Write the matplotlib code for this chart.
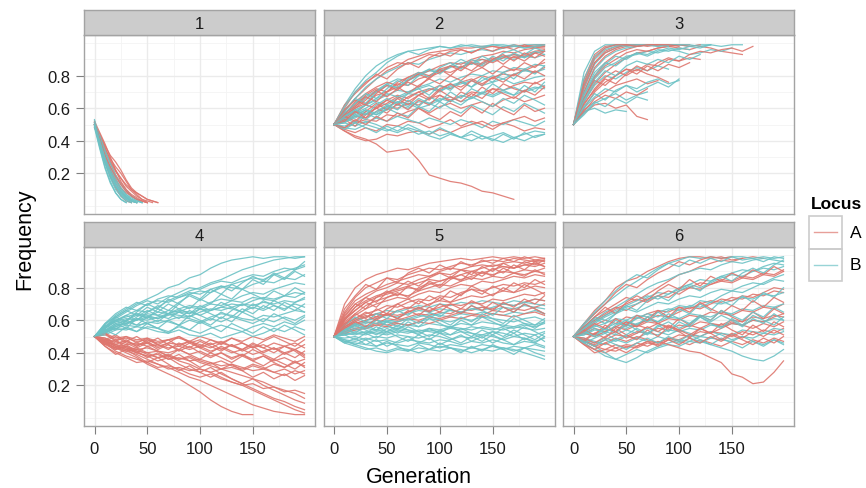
import numpy as np
import matplotlib.pyplot as plt
from matplotlib.lines import Line2D
from matplotlib.patches import Rectangle

plt.rcParams['font.family'] = ['Liberation Sans', 'DejaVu Sans']

# generations at which each trajectory is recorded
gen_fine = [0, 5, 10, 15, 20, 25, 30, 35, 40, 45, 50, 55, 60]
gen_std = [0, 10, 20, 30, 40, 50, 60, 70, 80, 90, 100, 110, 120, 130, 140,
           150, 160, 170, 180, 190, 199]

# allele frequency trajectories, in percent, one list per replicate run
p1_A = [
    [50, 40, 30, 21, 14, 9, 5, 3, 2],
    [51, 42, 33, 26, 19, 14, 10, 7, 5, 3, 2],
    [50, 44, 37, 31, 27, 22, 16, 11, 8, 6, 4, 3, 2],
    [49, 38, 27, 18, 11, 6, 3, 2],
    [50, 41, 34, 27, 21, 17, 12, 9, 6, 4, 3, 2],
    [52, 45, 38, 30, 22, 15, 10, 6, 4, 2],
    [50, 39, 29, 22, 16, 11, 8, 6, 4, 3, 2],
    [48, 43, 35, 29, 24, 20, 15, 10, 7, 4, 2],
    [50, 43, 36, 28, 22, 17, 13, 10, 8, 6, 4, 3, 2],
    [51, 41, 31, 24, 18, 13, 9, 6, 4, 3, 2],
]
p1_B = [
    [50, 36, 24, 15, 8, 4, 2],
    [52, 38, 27, 18, 12, 7, 4, 2],
    [50, 40, 30, 22, 15, 10, 6, 3, 2],
    [49, 37, 26, 17, 10, 6, 3, 2],
    [51, 42, 32, 24, 17, 11, 7, 4, 2],
    [50, 39, 28, 20, 13, 8, 5, 3, 2],
    [53, 41, 31, 23, 16, 11, 7, 5, 3, 2],
    [48, 35, 23, 14, 8, 4, 2],
    [50, 43, 34, 26, 19, 13, 9, 6, 4, 2],
    [51, 40, 29, 19, 12, 7, 4, 3, 2],
    [49, 39, 29, 21, 14, 9, 6, 4, 3, 2],
    [50, 37, 27, 19, 12, 8, 5, 3, 2],
]

p2_A = [
    [50, 58, 66, 72, 78, 83, 86, 90, 92, 94, 95, 96, 97, 97, 98, 98, 97, 98, 98, 99, 99],
    [50, 55, 60, 63, 68, 70, 75, 74, 78, 80, 83, 82, 85, 88, 87, 90, 92, 91, 93, 95, 96],
    [50, 53, 57, 62, 60, 65, 68, 66, 70, 72, 71, 75, 73, 77, 80, 78, 82, 84, 83, 86, 88],
    [50, 52, 55, 54, 58, 61, 60, 63, 62, 66, 68, 65, 67, 70, 69, 72, 71, 74, 76, 75, 78],
    [50, 48, 51, 53, 52, 56, 55, 58, 60, 57, 61, 63, 60, 62, 64, 61, 65, 67, 64, 66, 68],
    [50, 47, 45, 48, 46, 50, 49, 52, 51, 48, 50, 53, 49, 52, 50, 47, 51, 49, 46, 48, 47],
    [50, 46, 42, 40, 41, 44, 43, 45, 46, 44, 47, 45, 48, 50, 52, 49, 51, 53, 55, 52, 54],
    [50, 46, 43, 41, 38, 33, 34, 35, 28, 19, 17, 15, 14, 12, 9, 8, 6, 4],
    [50, 60, 70, 76, 80, 85, 88, 87, 90, 93, 92, 95, 96, 94, 97, 98, 97, 99, 98, 98, 99],
    [50, 57, 62, 68, 72, 70, 76, 79, 82, 80, 84, 86, 85, 89, 90, 88, 91, 93, 92, 94, 95],
    [50, 54, 58, 56, 60, 63, 67, 64, 68, 71, 74, 72, 76, 78, 75, 79, 81, 80, 84, 82, 85],
    [50, 56, 64, 69, 73, 76, 74, 79, 81, 83, 86, 88, 87, 90, 92, 93, 95, 94, 96, 97, 97],
    [50, 57, 61, 67, 64, 70, 73, 69, 74, 78, 75, 80, 77, 82, 85, 81, 86, 83, 88, 85, 90],
    [50, 53, 49, 56, 60, 57, 63, 59, 65, 62, 68, 64, 70, 67, 73, 69, 75, 72, 70, 76, 73],
    [50, 62, 69, 75, 81, 78, 84, 88, 85, 91, 94, 92, 96, 94, 97, 95, 98, 96, 99, 97, 98],
    [50, 55, 52, 58, 63, 59, 66, 62, 68, 65, 71, 67, 64, 69, 66, 72, 69, 66, 71, 68, 73],
    [50, 59, 65, 62, 69, 74, 71, 77, 81, 78, 84, 80, 86, 83, 88, 91, 87, 92, 89, 94, 92],
    [50, 48, 53, 50, 55, 52, 57, 54, 60, 56, 53, 58, 55, 61, 57, 63, 59, 56, 62, 58, 60],
    [50, 56, 60, 65, 71, 67, 72, 76, 73, 79, 82, 86, 83, 88, 85, 90, 93, 89, 94, 91, 95],
    [50, 52, 58, 54, 61, 65, 62, 67, 70, 66, 72, 75, 71, 77, 74, 79, 76, 81, 78, 83, 80],
]
p2_B = [
    [50, 62, 72, 80, 86, 90, 93, 95, 96, 97, 98, 97, 98, 99, 98, 99, 99, 98, 99, 99, 99],
    [50, 58, 66, 73, 78, 82, 85, 88, 87, 90, 92, 94, 93, 95, 96, 95, 97, 98, 97, 98, 98],
    [50, 55, 61, 66, 70, 74, 73, 77, 80, 83, 82, 85, 88, 87, 90, 89, 92, 93, 91, 94, 95],
    [50, 53, 57, 60, 64, 62, 66, 69, 68, 72, 70, 74, 76, 73, 77, 80, 78, 81, 83, 82, 84],
    [50, 52, 54, 58, 56, 59, 62, 60, 64, 63, 66, 64, 68, 66, 70, 68, 71, 73, 70, 72, 74],
    [50, 49, 52, 51, 54, 52, 55, 53, 51, 54, 52, 50, 53, 51, 48, 52, 50, 53, 51, 49, 52],
    [50, 48, 47, 50, 48, 46, 49, 47, 44, 46, 43, 45, 42, 44, 41, 43, 45, 42, 44, 46, 45],
    [50, 51, 49, 52, 50, 47, 45, 48, 46, 43, 41, 44, 42, 40, 43, 41, 39, 42, 40, 43, 44],
    [50, 56, 63, 67, 71, 75, 78, 77, 81, 84, 83, 86, 85, 88, 86, 89, 91, 90, 92, 91, 93],
    [50, 54, 59, 62, 65, 68, 71, 70, 73, 75, 78, 76, 79, 81, 80, 83, 82, 85, 84, 87, 86],
    [50, 52, 56, 59, 57, 61, 64, 63, 60, 62, 65, 67, 64, 66, 69, 67, 70, 68, 71, 73, 72],
    [50, 55, 58, 62, 66, 69, 67, 70, 72, 74, 71, 73, 75, 77, 74, 76, 78, 75, 77, 79, 80],
    [50, 59, 66, 63, 70, 75, 72, 78, 82, 79, 85, 88, 84, 90, 87, 92, 89, 94, 91, 95, 93],
    [50, 54, 51, 57, 54, 60, 57, 55, 61, 58, 64, 60, 57, 62, 59, 56, 61, 58, 63, 60, 57],
    [50, 61, 70, 77, 82, 88, 92, 95, 93, 96, 98, 97, 99, 98, 97, 99, 98, 99, 97, 98, 99],
    [50, 52, 56, 53, 58, 62, 59, 65, 61, 67, 64, 70, 66, 72, 69, 75, 71, 68, 74, 70, 76],
    [50, 47, 51, 48, 45, 49, 46, 50, 47, 44, 48, 45, 42, 46, 43, 40, 44, 41, 45, 42, 44],
    [50, 57, 63, 69, 66, 72, 77, 74, 80, 84, 81, 86, 90, 87, 92, 89, 94, 96, 93, 97, 95],
    [50, 55, 59, 56, 62, 66, 63, 69, 72, 68, 74, 71, 77, 73, 79, 76, 82, 78, 84, 81, 86],
    [50, 51, 55, 59, 56, 60, 64, 61, 66, 63, 60, 65, 62, 67, 64, 61, 66, 63, 68, 65, 62],
]

p3_A = [
    [50, 78, 93, 98, 99, 99],
    [50, 72, 88, 95, 98, 99, 99, 99],
    [50, 68, 80, 88, 93, 96, 98, 99, 99, 98, 99, 99],
    [50, 64, 75, 82, 87, 91, 94, 95, 97, 98, 97, 96, 98, 97, 95, 94, 93],
    [50, 60, 70, 76, 80, 84, 83, 87, 86, 90, 89, 91, 90],
    [50, 58, 66, 70, 74, 76, 78, 75, 77],
    [50, 57, 62, 63, 60, 62, 55, 53],
    [50, 66, 79, 86, 90, 94, 96, 95, 97, 98, 99],
    [50, 62, 72, 79, 83, 80, 84, 81, 79, 76],
    [50, 70, 85, 92, 96, 98, 99, 98, 99, 99, 99, 98, 99],
    [50, 74, 88, 94, 97, 99, 98, 99, 99],
    [50, 63, 71, 78, 75, 81, 86, 83, 88, 91, 89, 93, 95, 94, 96, 97, 95, 98],
    [50, 66, 77, 74, 80, 84, 81, 86, 83, 87, 85, 88],
    [50, 59, 64, 68, 66, 70, 68, 72],
    [50, 76, 91, 97, 99, 99, 98, 99, 99, 99, 98],
]
p3_B = [
    [50, 82, 95, 99, 99, 99],
    [50, 75, 90, 96, 98, 99, 99],
    [50, 70, 84, 91, 95, 97, 98, 99, 98, 99, 99, 98, 99, 99, 98, 99, 99],
    [50, 66, 78, 85, 88, 92, 93, 95, 94, 96, 95, 93, 94, 96, 95, 97],
    [50, 58, 60, 57, 59, 58],
    [50, 60, 67, 72, 70, 74, 72, 76, 78, 75, 77],
    [50, 64, 74, 80, 78, 82, 85, 83, 86, 84],
    [50, 68, 80, 87, 92, 90, 94, 93, 96, 95, 97, 96],
    [50, 56, 63, 66, 69, 65, 68, 70],
    [50, 73, 87, 94, 97, 99, 98, 99, 99, 98],
    [50, 78, 92, 97, 99, 98, 99, 99, 98, 99, 99, 99, 98, 99],
    [50, 61, 69, 65, 71, 74, 70, 73, 76, 73, 78],
    [50, 69, 82, 88, 86, 91, 94, 92, 95, 97, 96, 98, 97, 99],
    [50, 57, 64, 61, 66, 63, 67, 65],
    [50, 65, 76, 83, 80, 86, 89, 87, 90, 88, 92, 90, 93],
]

p4_A = [
    [50, 46, 43, 40, 37, 33, 30, 27, 24, 20, 16, 11, 7, 4, 2, 2],
    [50, 47, 44, 41, 39, 36, 33, 31, 28, 25, 23, 20, 17, 14, 11, 8, 6, 4, 3, 2, 2],
    [50, 45, 42, 44, 40, 38, 35, 37, 33, 30, 28, 31, 27, 24, 21, 18, 15, 12, 10, 7, 5],
    [50, 48, 45, 42, 43, 40, 41, 38, 36, 37, 34, 32, 30, 28, 26, 24, 22, 19, 17, 15, 12],
    [50, 46, 43, 41, 42, 39, 37, 39, 36, 38, 35, 33, 35, 32, 30, 33, 31, 28, 26, 29, 27],
    [50, 47, 45, 44, 42, 43, 41, 40, 42, 39, 41, 38, 40, 37, 39, 36, 38, 35, 37, 34, 36],
    [50, 48, 47, 45, 46, 44, 45, 43, 44, 42, 44, 41, 43, 40, 42, 39, 41, 43, 40, 42, 39],
    [50, 49, 46, 47, 45, 46, 44, 46, 45, 47, 45, 43, 46, 44, 42, 45, 43, 46, 44, 42, 45],
    [50, 51, 48, 49, 47, 48, 46, 48, 49, 47, 50, 48, 46, 49, 47, 50, 48, 51, 49, 47, 50],
    [50, 47, 44, 42, 40, 38, 39, 36, 37, 35, 36, 34, 32, 33, 31, 29, 30, 28, 30, 27, 29],
    [50, 46, 41, 38, 36, 34, 31, 32, 30, 27, 25, 27, 24, 22, 20, 21, 18, 19, 16, 17, 15],
    [50, 44, 40, 37, 34, 35, 33, 30, 31, 29, 30, 28, 30, 31, 29, 32, 30, 33, 31, 34, 32],
    [50, 48, 44, 43, 41, 40, 37, 38, 35, 33, 30, 28, 25, 22, 20, 17, 14, 11, 8, 5, 3],
    [50, 52, 49, 50, 48, 49, 47, 48, 50, 46, 48, 45, 47, 44, 46, 43, 45, 42, 44, 46, 43],
    [50, 45, 48, 43, 40, 44, 41, 38, 42, 39, 36, 40, 37, 34, 38, 35, 32, 36, 33, 30, 34],
    [50, 52, 47, 50, 46, 49, 45, 48, 44, 47, 43, 46, 42, 45, 41, 44, 40, 43, 39, 42, 38],
    [50, 47, 42, 45, 41, 37, 40, 36, 39, 35, 31, 34, 30, 33, 29, 25, 28, 24, 27, 23, 26],
    [50, 48, 51, 47, 50, 46, 49, 45, 42, 46, 43, 40, 44, 41, 38, 42, 39, 36, 40, 37, 41],
    [50, 46, 43, 47, 44, 48, 45, 42, 46, 43, 47, 44, 41, 45, 42, 46, 43, 40, 44, 41, 37],
    [50, 44, 39, 42, 38, 34, 37, 33, 29, 32, 28, 25, 28, 24, 21, 24, 20, 17, 14, 11, 9],
    [50, 49, 45, 48, 44, 47, 43, 46, 50, 47, 44, 48, 45, 49, 46, 43, 47, 50, 47, 44, 48],
    [50, 47, 50, 46, 43, 46, 42, 45, 41, 44, 40, 37, 40, 36, 39, 35, 38, 34, 31, 35, 31],
]
p4_B = [
    [50, 56, 62, 66, 70, 73, 76, 80, 82, 86, 88, 92, 95, 97, 98, 99, 98, 99, 99, 98, 99],
    [50, 55, 60, 63, 66, 65, 68, 72, 75, 78, 80, 83, 85, 88, 91, 93, 95, 97, 98, 99, 99],
    [50, 58, 64, 68, 66, 70, 72, 71, 74, 76, 78, 77, 80, 82, 84, 86, 85, 88, 90, 92, 94],
    [50, 54, 58, 60, 63, 62, 65, 64, 67, 69, 68, 71, 73, 72, 75, 77, 76, 79, 81, 83, 82],
    [50, 55, 59, 61, 60, 64, 63, 66, 65, 68, 67, 70, 69, 72, 71, 74, 73, 72, 75, 74, 77],
    [50, 53, 57, 58, 61, 60, 62, 64, 63, 62, 65, 67, 66, 68, 70, 69, 71, 70, 72, 71, 73],
    [50, 56, 60, 62, 64, 63, 61, 64, 66, 65, 63, 66, 68, 67, 65, 68, 66, 69, 67, 70, 68],
    [50, 52, 55, 57, 56, 59, 58, 60, 62, 61, 59, 62, 64, 63, 61, 60, 63, 62, 64, 66, 65],
    [50, 54, 56, 59, 57, 58, 60, 59, 57, 60, 58, 61, 59, 62, 60, 58, 61, 59, 62, 60, 63],
    [50, 51, 54, 55, 53, 56, 55, 53, 56, 54, 52, 55, 57, 55, 53, 56, 58, 56, 59, 57, 60],
    [50, 53, 55, 54, 56, 55, 53, 52, 54, 51, 50, 52, 49, 51, 53, 50, 52, 55, 53, 56, 54],
    [50, 55, 61, 65, 69, 72, 70, 74, 77, 80, 79, 82, 84, 83, 86, 88, 87, 90, 92, 91, 93],
    [50, 57, 63, 67, 71, 69, 73, 75, 74, 77, 76, 79, 81, 80, 79, 82, 84, 83, 86, 85, 88],
    [50, 52, 56, 58, 60, 62, 61, 63, 65, 64, 67, 66, 68, 70, 69, 72, 74, 73, 75, 77, 76],
    [50, 57, 54, 60, 64, 61, 67, 64, 70, 67, 73, 70, 76, 73, 79, 76, 73, 78, 75, 80, 77],
    [50, 53, 58, 55, 61, 58, 55, 60, 57, 63, 60, 57, 62, 59, 65, 62, 59, 64, 61, 58, 62],
    [50, 55, 62, 59, 65, 70, 67, 73, 70, 76, 73, 79, 76, 82, 79, 85, 82, 88, 85, 90, 87],
    [50, 54, 51, 56, 53, 58, 55, 52, 57, 54, 59, 56, 53, 58, 55, 52, 56, 53, 57, 54, 51],
    [50, 58, 62, 66, 63, 68, 65, 70, 67, 64, 69, 66, 71, 68, 65, 70, 67, 72, 69, 66, 70],
    [50, 56, 59, 63, 60, 65, 69, 66, 71, 75, 72, 77, 81, 78, 83, 87, 84, 89, 86, 91, 96],
    [50, 52, 57, 60, 57, 62, 59, 64, 61, 66, 63, 60, 65, 62, 67, 64, 69, 66, 71, 68, 65],
    [50, 55, 60, 57, 62, 66, 63, 61, 65, 62, 67, 64, 61, 66, 70, 67, 72, 69, 66, 71, 74],
]

p5_A = [
    [50, 70, 80, 85, 88, 90, 92, 91, 93, 95, 96, 97, 98, 97, 98, 99, 98, 99, 98, 99, 98],
    [50, 65, 74, 80, 83, 86, 85, 88, 90, 92, 91, 93, 95, 94, 96, 97, 96, 98, 97, 96, 97],
    [50, 62, 70, 74, 78, 80, 83, 82, 85, 87, 89, 88, 91, 90, 92, 94, 93, 92, 94, 95, 93],
    [50, 60, 66, 71, 74, 76, 78, 80, 79, 82, 84, 86, 85, 87, 89, 88, 90, 89, 91, 90, 92],
    [50, 58, 63, 67, 70, 72, 74, 73, 76, 78, 77, 80, 82, 81, 84, 83, 85, 87, 86, 88, 87],
    [50, 57, 61, 64, 66, 69, 68, 71, 73, 72, 75, 74, 77, 79, 78, 80, 82, 81, 83, 82, 84],
    [50, 56, 59, 62, 64, 63, 66, 68, 67, 70, 72, 71, 73, 75, 74, 76, 78, 77, 79, 81, 80],
    [50, 55, 58, 60, 62, 64, 63, 65, 67, 66, 68, 70, 69, 71, 70, 73, 72, 74, 76, 75, 77],
    [50, 54, 57, 59, 58, 61, 60, 62, 64, 63, 65, 64, 67, 66, 68, 67, 70, 69, 71, 73, 72],
    [50, 53, 55, 56, 58, 57, 59, 61, 60, 62, 61, 63, 65, 64, 63, 66, 65, 67, 66, 68, 70],
    [50, 52, 54, 55, 57, 56, 58, 57, 59, 58, 60, 62, 61, 63, 62, 64, 63, 62, 64, 65, 63],
    [50, 64, 72, 76, 79, 82, 84, 86, 88, 87, 90, 92, 91, 93, 94, 93, 95, 96, 95, 97, 96],
    [50, 61, 68, 72, 75, 77, 79, 81, 83, 85, 84, 86, 88, 90, 89, 91, 93, 92, 94, 93, 95],
    [50, 59, 64, 69, 72, 74, 76, 75, 78, 80, 82, 81, 84, 86, 85, 87, 86, 89, 88, 90, 89],
    [50, 63, 70, 67, 74, 78, 75, 81, 78, 84, 81, 87, 84, 90, 87, 92, 89, 94, 91, 96, 93],
    [50, 58, 61, 65, 62, 67, 70, 67, 72, 69, 74, 71, 76, 79, 76, 81, 78, 83, 80, 85, 82],
    [50, 67, 75, 82, 79, 86, 83, 89, 92, 89, 94, 91, 96, 93, 97, 95, 98, 96, 99, 97, 98],
    [50, 55, 59, 56, 61, 64, 61, 66, 63, 68, 65, 70, 67, 72, 69, 66, 71, 68, 73, 70, 75],
    [50, 61, 66, 71, 68, 74, 77, 74, 80, 83, 80, 85, 88, 85, 90, 87, 92, 89, 87, 91, 88],
    [50, 57, 64, 61, 67, 64, 70, 73, 70, 75, 72, 78, 75, 81, 78, 75, 80, 77, 82, 79, 76],
    [50, 60, 68, 74, 71, 77, 80, 84, 81, 86, 89, 86, 91, 88, 93, 90, 95, 92, 96, 94, 97],
    [50, 56, 60, 63, 60, 64, 61, 65, 68, 65, 70, 67, 64, 69, 66, 71, 68, 65, 70, 67, 64],
]
p5_B = [
    [50, 56, 60, 62, 64, 66, 65, 67, 69, 68, 70, 69, 71, 70, 72, 71, 70, 72, 71, 73, 72],
    [50, 55, 58, 60, 61, 63, 62, 64, 66, 65, 67, 66, 65, 67, 68, 66, 68, 67, 69, 68, 67],
    [50, 54, 56, 58, 60, 59, 61, 60, 62, 64, 63, 62, 64, 63, 65, 64, 63, 65, 64, 66, 64],
    [50, 53, 55, 56, 57, 59, 58, 57, 59, 61, 60, 59, 61, 60, 62, 61, 60, 59, 61, 62, 60],
    [50, 52, 54, 55, 54, 56, 55, 57, 56, 58, 57, 56, 58, 57, 59, 58, 57, 56, 58, 57, 59],
    [50, 51, 53, 52, 54, 53, 55, 54, 53, 55, 54, 56, 55, 54, 56, 55, 54, 56, 55, 54, 55],
    [50, 52, 51, 53, 52, 51, 53, 52, 54, 53, 52, 51, 53, 52, 51, 53, 52, 50, 52, 51, 53],
    [50, 49, 50, 48, 50, 49, 51, 50, 49, 51, 50, 48, 50, 49, 51, 50, 48, 50, 49, 47, 49],
    [50, 48, 47, 49, 47, 48, 46, 48, 47, 46, 48, 47, 45, 47, 46, 48, 46, 45, 47, 46, 44],
    [50, 47, 46, 45, 44, 46, 45, 44, 46, 45, 43, 45, 44, 43, 45, 44, 42, 44, 43, 45, 43],
    [50, 46, 44, 42, 43, 41, 43, 42, 40, 42, 41, 43, 42, 40, 42, 41, 43, 42, 40, 38, 36],
    [50, 47, 45, 43, 41, 40, 42, 41, 43, 42, 44, 43, 41, 43, 42, 44, 43, 41, 43, 42, 41],
    [50, 54, 57, 59, 58, 60, 59, 61, 63, 62, 64, 66, 65, 67, 66, 68, 70, 69, 71, 70, 69],
    [50, 51, 52, 51, 53, 52, 54, 53, 52, 54, 53, 55, 54, 56, 55, 54, 56, 55, 57, 56, 58],
    [50, 55, 52, 57, 54, 59, 56, 61, 58, 63, 60, 57, 62, 59, 64, 61, 58, 63, 60, 57, 61],
    [50, 53, 57, 54, 51, 55, 52, 56, 53, 50, 54, 51, 55, 52, 49, 53, 50, 54, 51, 48, 52],
    [50, 48, 45, 48, 44, 47, 44, 41, 45, 42, 46, 43, 40, 44, 41, 45, 42, 39, 43, 40, 38],
    [50, 57, 62, 59, 64, 61, 66, 63, 68, 65, 62, 67, 64, 69, 66, 63, 68, 65, 70, 67, 64],
    [50, 51, 48, 52, 49, 53, 50, 47, 51, 48, 52, 49, 46, 50, 47, 51, 48, 45, 49, 46, 50],
    [50, 54, 58, 55, 60, 57, 54, 59, 56, 61, 58, 55, 60, 57, 62, 59, 56, 61, 58, 55, 59],
    [50, 46, 49, 45, 48, 44, 47, 50, 46, 49, 45, 48, 51, 47, 50, 46, 49, 52, 48, 51, 47],
    [50, 52, 55, 52, 56, 53, 57, 54, 51, 55, 52, 56, 53, 50, 54, 51, 55, 52, 56, 53, 50],
]

p6_A = [
    [50, 58, 66, 72, 80, 84, 86, 90, 93, 96, 98, 99, 99, 98, 99, 97, 98, 99, 98],
    [50, 55, 62, 66, 70, 74, 72, 76, 80, 84, 88, 90, 93, 95, 97, 96, 98],
    [50, 56, 60, 64, 68, 66, 70, 73, 75, 74, 78, 80, 79, 82, 84, 83, 86, 85, 88, 87, 90],
    [50, 53, 57, 60, 58, 62, 61, 64, 66, 65, 68, 67, 70, 72, 71, 74, 73, 76, 75, 78, 77],
    [50, 48, 52, 55, 53, 57, 56, 59, 58, 61, 60, 63, 62, 65, 64, 63, 66, 65, 68, 67, 70],
    [50, 47, 45, 48, 51, 50, 53, 52, 55, 54, 57, 56, 59, 58, 57, 60, 59, 62, 61, 63, 62],
    [50, 52, 55, 53, 56, 54, 57, 55, 58, 56, 54, 57, 55, 58, 56, 59, 57, 55, 58, 56, 59],
    [50, 46, 42, 40, 43, 45, 44, 47, 46, 49, 48, 51, 50, 53, 52, 50, 53, 51, 54, 52, 55],
    [50, 48, 44, 46, 49, 47, 50, 48, 46, 49, 47, 45, 48, 46, 44, 47, 45, 48, 46, 49, 47],
    [50, 47, 44, 42, 45, 43, 46, 44, 47, 45, 43, 41, 40, 37, 34, 27, 25, 21, 22, 28, 35],
    [50, 54, 59, 63, 67, 70, 73, 71, 75, 78, 76, 80, 83, 82, 85, 84, 87, 86, 89, 88, 91],
    [50, 52, 50, 53, 56, 59, 57, 60, 63, 62, 65, 68, 67, 70, 73, 72, 75, 74, 77, 80, 79],
    [50, 45, 40, 42, 41, 44, 43, 46, 45, 48, 51, 50, 53, 52, 55, 58, 57, 60, 59, 62, 64],
    [50, 54, 51, 57, 53, 59, 56, 62, 58, 55, 61, 57, 63, 60, 66, 62, 59, 65, 61, 67, 64],
    [50, 47, 52, 49, 55, 51, 48, 54, 50, 56, 53, 49, 55, 52, 58, 54, 51, 57, 53, 59, 56],
    [50, 56, 62, 68, 64, 71, 75, 72, 78, 82, 79, 85, 81, 87, 84, 89, 86, 91, 88, 93, 90],
    [50, 45, 42, 46, 43, 40, 44, 47, 44, 48, 45, 49, 46, 50, 47, 51, 48, 45, 49, 46, 50],
    [50, 53, 58, 55, 61, 57, 63, 60, 66, 62, 68, 65, 71, 67, 64, 69, 66, 72, 68, 74, 71],
    [50, 58, 64, 70, 77, 82, 80, 85, 89, 92, 96, 94, 97, 99, 98, 99],
    [50, 49, 46, 50, 53, 49, 52, 56, 53, 57, 54, 51, 55, 52, 48, 52, 49, 53, 50, 54, 51],
]
p6_B = [
    [50, 57, 64, 70, 75, 80, 84, 88, 92, 95, 97, 99, 98, 99, 98, 99, 99, 98, 99, 98, 99],
    [50, 55, 60, 65, 68, 72, 76, 80, 83, 85, 88, 90, 92, 91, 94, 96, 95, 97, 98, 97, 96],
    [50, 54, 58, 62, 65, 68, 70, 74, 77, 76, 80, 82, 85, 84, 87, 89, 91, 90, 93, 95, 94],
    [50, 56, 62, 60, 64, 67, 65, 68, 71, 70, 73, 75, 74, 77, 79, 78, 81, 83, 82, 85, 84],
    [50, 53, 56, 58, 61, 60, 63, 62, 65, 67, 66, 69, 68, 71, 70, 72, 74, 73, 76, 75, 77],
    [50, 51, 54, 53, 56, 55, 58, 60, 59, 62, 61, 64, 63, 62, 65, 64, 67, 66, 69, 68, 70],
    [50, 48, 46, 49, 47, 50, 49, 52, 51, 54, 53, 55, 54, 57, 56, 58, 57, 60, 59, 61, 60],
    [50, 47, 44, 40, 36, 34, 37, 41, 44, 46, 48, 47, 50, 49, 52, 51, 54, 53, 52, 55, 54],
    [50, 46, 42, 38, 36, 39, 42, 40, 43, 45, 44, 47, 46, 49, 48, 47, 50, 49, 52, 51, 53],
    [50, 49, 47, 45, 48, 46, 49, 47, 50, 48, 46, 49, 47, 45, 43, 41, 38, 36, 35, 38, 42],
    [50, 52, 50, 53, 51, 54, 52, 55, 53, 51, 54, 52, 50, 53, 51, 48, 50, 47, 45, 48, 46],
    [50, 55, 59, 63, 66, 69, 72, 75, 73, 76, 79, 82, 80, 83, 86, 88, 87, 90, 92, 91, 93],
    [50, 53, 51, 55, 58, 57, 61, 64, 62, 66, 69, 68, 72, 71, 75, 78, 77, 80, 83, 86, 88],
    [50, 52, 57, 54, 60, 56, 62, 59, 65, 61, 67, 64, 70, 66, 72, 69, 75, 71, 77, 74, 80],
    [50, 47, 44, 48, 45, 42, 46, 49, 46, 50, 47, 51, 48, 45, 49, 46, 43, 47, 44, 48, 45],
    [50, 55, 61, 58, 64, 69, 66, 72, 75, 72, 78, 81, 78, 84, 87, 84, 89, 92, 89, 94, 97],
    [50, 53, 50, 55, 52, 58, 54, 51, 57, 53, 59, 56, 62, 58, 55, 61, 57, 63, 60, 57, 62],
    [50, 46, 49, 52, 48, 51, 55, 52, 56, 59, 55, 58, 62, 59, 63, 60, 56, 61, 58, 64, 60],
    [50, 58, 65, 72, 78, 84, 88, 86, 91, 95, 93, 97, 95, 98, 96, 99, 97, 98, 96, 99, 98],
    [50, 51, 55, 52, 57, 60, 57, 62, 59, 64, 61, 58, 63, 60, 66, 63, 60, 65, 62, 68, 65],
]

facets = [
    ('1', gen_fine, p1_A, p1_B),
    ('2', gen_std, p2_A, p2_B),
    ('3', gen_std, p3_A, p3_B),
    ('4', gen_std, p4_A, p4_B),
    ('5', gen_std, p5_A, p5_B),
    ('6', gen_std, p6_A, p6_B),
]

col_A = '#DE766E'
col_B = '#6CC2C5'
border = '#A3A3A3'

W, H = 866, 489


def box(x0, y0, x1, y1):
    # pixel box (top-left origin) -> figure fraction rect
    return [x0 / W, 1 - y1 / H, (x1 - x0) / W, (y1 - y0) / H]


fig = plt.figure(figsize=(W / 100, H / 100), dpi=100)

col_x = [(84, 315), (323.5, 555), (563, 794)]
row_y = [(11, 36, 215), (223, 248, 427)]

for k, (name, gens, runs_A, runs_B) in enumerate(facets):
    r, c = divmod(k, 3)
    x0, x1 = col_x[c]
    s0, p0, p1 = row_y[r]

    ax = fig.add_axes(box(x0, p0, x1, p1))
    ax.set_xlim(-9.95, 208.95)
    ax.set_ylim(-0.05, 1.05)
    for x in [25, 75, 125, 175]:
        ax.axvline(x, color='#F4F4F4', lw=0.6, zorder=0)
    for y in [0.0, 0.1, 0.3, 0.5, 0.7, 0.9, 1.0]:
        ax.axhline(y, color='#F4F4F4', lw=0.6, zorder=0)
    for x in [0, 50, 100, 150]:
        ax.axvline(x, color='#EBEBEB', lw=1.0, zorder=0)
    for y in [0.2, 0.4, 0.6, 0.8]:
        ax.axhline(y, color='#EBEBEB', lw=1.0, zorder=0)

    for i in range(max(len(runs_A), len(runs_B))):
        if i < len(runs_A):
            v = np.array(runs_A[i]) / 100
            ax.plot(gens[:len(v)], v, color=col_A, lw=0.9, alpha=0.9)
        if i < len(runs_B):
            v = np.array(runs_B[i]) / 100
            ax.plot(gens[:len(v)], v, color=col_B, lw=0.9, alpha=0.9)

    ax.set_xticks([0, 50, 100, 150])
    ax.set_yticks([0.2, 0.4, 0.6, 0.8])
    ax.tick_params(length=5.5, width=0.8, color='#7F7F7F', labelsize=12,
                   labelcolor='#1A1A1A')
    ax.tick_params(axis='x', pad=5)
    ax.tick_params(axis='y', pad=4.5)
    if r == 0:
        ax.tick_params(axis='x', length=0, labelbottom=False)
    if c > 0:
        ax.tick_params(axis='y', length=0, labelleft=False)
    for sp in ax.spines.values():
        sp.set_color(border)
        sp.set_linewidth(1)

    # facet strip
    st = fig.add_axes(box(x0, s0, x1, p0))
    st.set_facecolor('#CCCCCC')
    st.set_xticks([])
    st.set_yticks([])
    for sp in st.spines.values():
        sp.set_color(border)
        sp.set_linewidth(1)
    st.text(0.5, 0.46, name, ha='center', va='center', fontsize=12,
            color='#1A1A1A', transform=st.transAxes)

fig.text(25 / W, 1 - 239 / H, 'Frequency', rotation=90, ha='center',
         va='center', fontsize=15.5)
fig.text(419 / W, 1 - 478 / H, 'Generation', ha='center', va='center',
         fontsize=15.5)

# legend
fig.text(837 / W, 1 - 205 / H, 'Locus', ha='center', va='center',
         fontsize=12.5, fontweight='bold')
lg = fig.add_axes(box(809, 217, 842, 282))
lg.set_xlim(0, 1)
lg.set_ylim(0, 2)
lg.axis('off')
for j, (lab, col) in enumerate([('A', col_A), ('B', col_B)]):
    yb = 1 - j
    lg.add_patch(Rectangle((0, yb), 1, 1, fill=False, edgecolor='#CCCCCC',
                           lw=1.2, clip_on=False))
    lg.add_line(Line2D([0.15, 0.85], [yb + 0.5, yb + 0.5], color=col,
                       lw=1.0, alpha=0.7))
    fig.text(850 / W, 1 - (233 + 32.5 * j) / H, lab, ha='left', va='center',
             fontsize=12.5)

fig.savefig('out.png', dpi=100)
